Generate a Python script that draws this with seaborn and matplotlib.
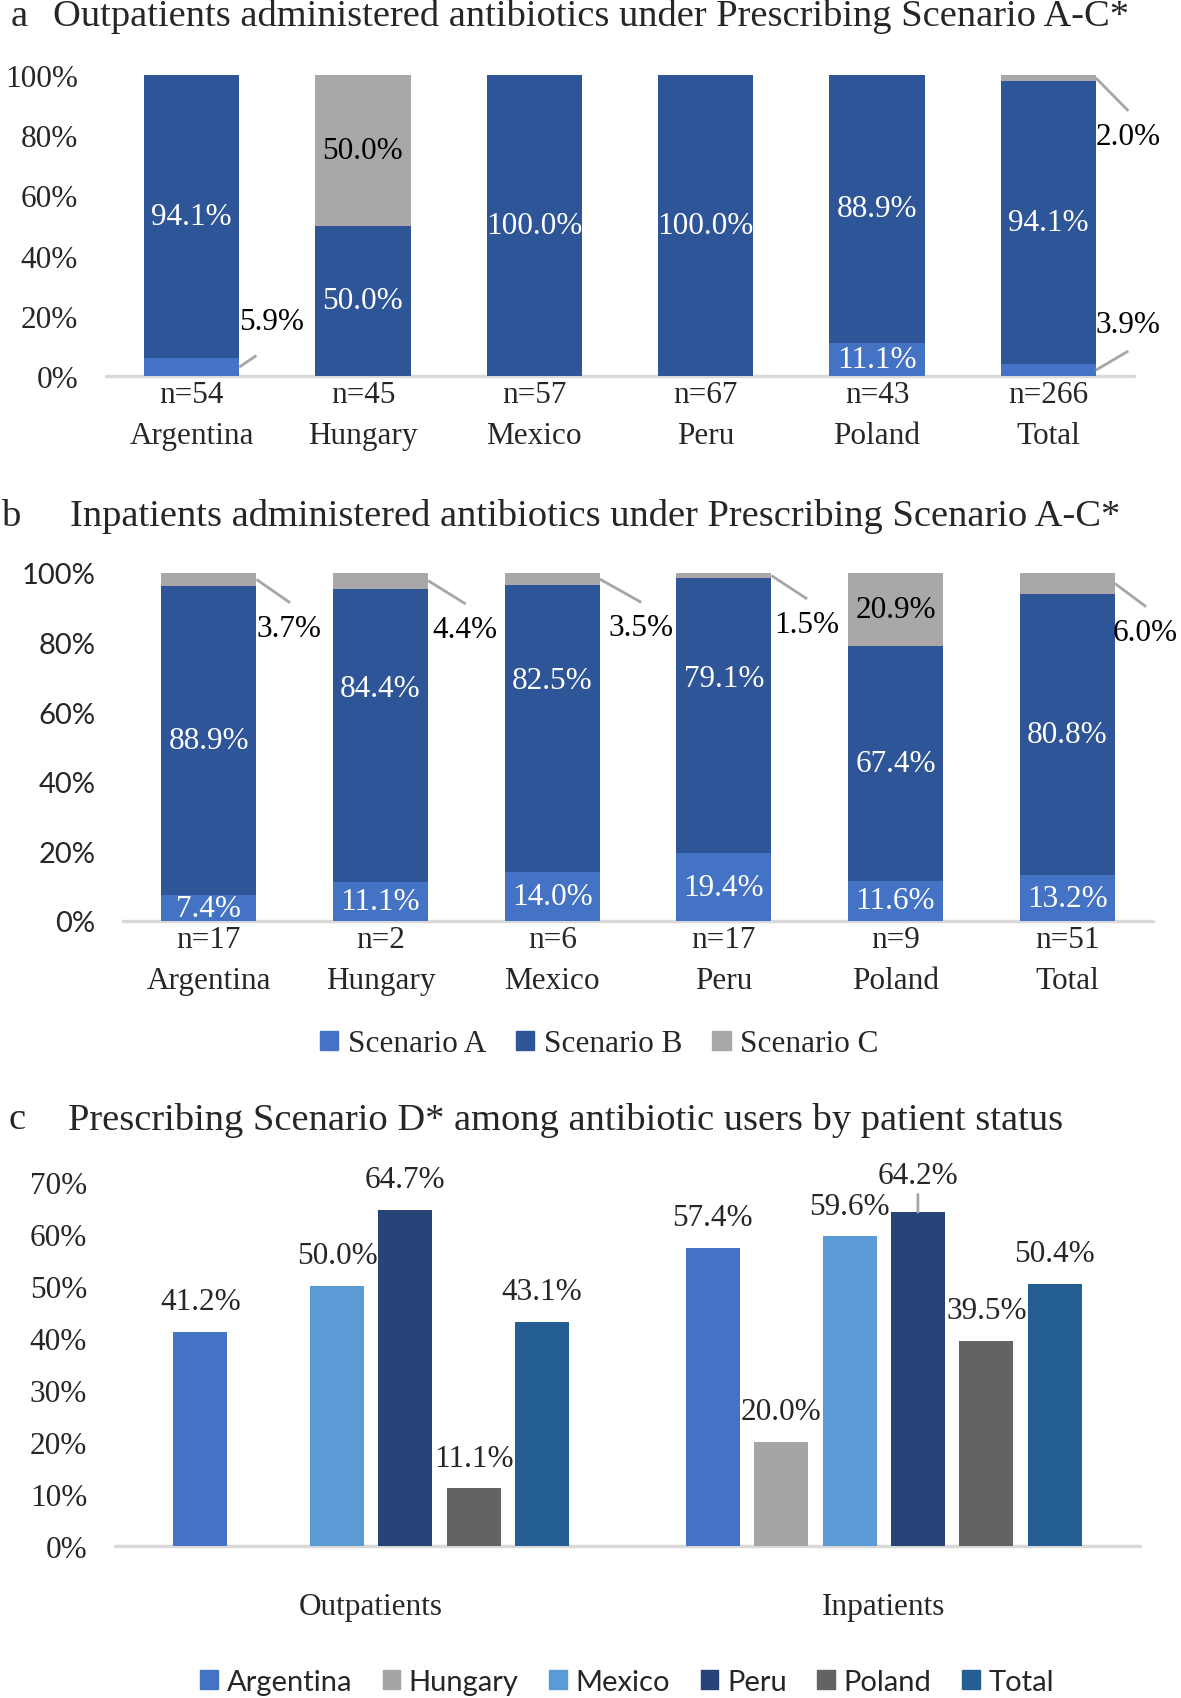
"""
Antibiotic prescribing scenarios: outpatients / inpatients stacked bars + scenario D by status
"""

import numpy as np
import pandas as pd
import seaborn as sns
import matplotlib.pyplot as plt
from matplotlib.patches import Patch

"""
Data read off the figure
"""
countries = ['Argentina', 'Hungary', 'Mexico', 'Peru', 'Poland', 'Total']

# a. outpatients, % of antibiotic users under scenario A / B / C
out_n = [54, 45, 57, 67, 43, 266]
out_a = [5.9, 0.0, 0.0, 0.0, 11.1, 3.9]
out_b = [94.1, 50.0, 100.0, 100.0, 88.9, 94.1]
out_c = [0.0, 50.0, 0.0, 0.0, 0.0, 2.0]

# b. inpatients
in_n = [17, 2, 6, 17, 9, 51]
in_a = [7.4, 11.1, 14.0, 19.4, 11.6, 13.2]
in_b = [88.9, 84.4, 82.5, 79.1, 67.4, 80.8]
in_c = [3.7, 4.4, 3.5, 1.5, 20.9, 6.0]

# c. scenario D by patient status (no outpatient bar for Hungary)
status = ['Outpatients', 'Inpatients']
d_out = [41.2, np.nan, 50.0, 64.7, 11.1, 43.1]
d_in = [57.4, 20.0, 59.6, 64.2, 39.5, 50.4]

"""
Styling
"""
sns.set_theme(style='white')
plt.rcParams['font.family'] = ['Liberation Serif', 'DejaVu Serif']
SANS = 'Lato'
FS = 22.5
TITLE_FS = 27.7
col_a, col_b, col_c = '#4472C4', '#2E5597', '#AAA7A9'
country_colors = ['#4472C4', '#A5A5A5', '#5B9BD5', '#264478', '#636363', '#255E91']
line_grey = '#A6A6A6'
base_grey = '#D9D9D9'
BAR_W = 0.555

W, H = 1181, 1699
fig = plt.figure(figsize=(W / 100, H / 100), dpi=100)


def px_axes(x0, y0, x1, y1):
    # axes from pixel box (top-left origin)
    return fig.add_axes([x0 / W, 1 - y1 / H, (x1 - x0) / W, (y1 - y0) / H])


def callout(ax, start, end, textpos, txt):
    ax.plot([start[0], end[0]], [start[1], end[1]], color=line_grey, lw=2,
            solid_capstyle='butt', clip_on=False, zorder=3)
    ax.text(textpos[0], textpos[1], txt, ha='center', va='center', fontsize=FS,
            color='black', clip_on=False)


def stacked(ax, a, b, c, n, ytick_family=None, label_y=None):
    df = pd.DataFrame({'country': countries, 'A': a, 'B': b, 'C': c})
    df['AB'] = df['A'] + df['B']
    df['ABC'] = df['AB'] + df['C']
    for col, colour in [('ABC', col_c), ('AB', col_b), ('A', col_a)]:
        sns.barplot(data=df, x='country', y=col, color=colour, width=BAR_W,
                    saturation=1, errorbar=None, linewidth=0, ax=ax, zorder=2)
    label_y = label_y or {}
    for i, row in df.iterrows():
        segs = [(row['A'], 0, 'white', 'A'), (row['B'], row['A'], 'white', 'B'),
                (row['C'], row['AB'], 'black', 'C')]
        for val, bottom, tc, key in segs:
            if val >= 7:
                y = label_y.get((i, key), bottom + val / 2)
                ax.text(i, y, f'{val:.1f}%', ha='center', va='center',
                        fontsize=FS, color=tc, zorder=4)
    ax.set_ylim(0, 100)
    ax.set_xlim(-0.5, 5.5)
    ticks = list(range(0, 101, 20))
    kw = {'fontfamily': ytick_family, 'fontsize': FS - 1.5} if ytick_family else {'fontsize': FS}
    ax.set_yticks(ticks, labels=[f'{t}%' for t in ticks], **kw)
    ax.set_xticks(range(6), labels=[f'n={k}\n{c}' for k, c in zip(n, countries)])
    for lbl in ax.get_xticklabels():
        lbl.set_fontsize(FS)
        lbl.set_linespacing(1.55)
    ax.tick_params(axis='y', length=0, pad=20)
    ax.tick_params(axis='x', length=0, pad=3)
    ax.set_xlabel('')
    ax.set_ylabel('')
    sns.despine(ax=ax, left=True, bottom=True)
    ax.axhline(0, color=base_grey, lw=2.5, zorder=1, clip_on=False)


"""
a. outpatients
"""
ax_a = px_axes(106, 76, 1134, 377)
stacked(ax_a, out_a, out_b, out_c, out_n)
hw = BAR_W / 2
callout(ax_a, (0 + hw, out_a[0] / 2), (0.378, 6.8), (0.467, 18.0), f'{out_a[0]:.1f}%')
callout(ax_a, (5 + hw, out_a[5] / 2), (5.467, 8.3), (5.467, 17.0), f'{out_a[5]:.1f}%')
callout(ax_a, (5 + hw, 100 - out_c[5] / 2), (5.467, 88.1), (5.467, 79.5), f'{out_c[5]:.1f}%')

fig.text(11 / W, 1 - 17 / H, 'a', fontsize=TITLE_FS, va='center', ha='left')
fig.text(53 / W, 1 - 17 / H, 'Outpatients administered antibiotics under Prescribing Scenario A-C*',
         fontsize=TITLE_FS, va='center', ha='left')

"""
b. inpatients
"""
ax_b = px_axes(123, 574, 1153, 922)
# the B labels of Hungary, Mexico and Peru sit higher than the segment middle
stacked(ax_b, in_a, in_b, in_c, in_n, ytick_family=SANS,
        label_y={(1, 'B'): 66.7, (2, 'B'): 69.0, (3, 'B'): 69.8})
end_dx = [0.473, 0.496, 0.519, 0.485, None, 0.46]
for i in [0, 1, 2, 3, 5]:
    mid = 100 - in_c[i] / 2
    callout(ax_b, (i + hw, mid), (i + end_dx[i], mid - 6.7), (i + end_dx[i] - 0.004, mid - 14),
            f'{in_c[i]:.1f}%')

fig.text(2 / W, 1 - 517 / H, 'b', fontsize=TITLE_FS, va='center', ha='left')
fig.text(70 / W, 1 - 517 / H, 'Inpatients administered antibiotics under Prescribing Scenario A-C*',
         fontsize=TITLE_FS, va='center', ha='left')

fig.legend(handles=[Patch(color=col_a, label='Scenario A'),
                    Patch(color=col_b, label='Scenario B'),
                    Patch(color=col_c, label='Scenario C')],
           loc='center', bbox_to_anchor=(599 / W, 1 - 1045 / H), ncol=3, frameon=False,
           fontsize=FS, handlelength=0.6, handleheight=0.6, handletextpad=0.3,
           columnspacing=0.95, borderpad=0)

"""
c. scenario D by patient status
"""
ax_c = px_axes(115, 1183, 1140, 1547)
dfc = pd.DataFrame({'status': np.repeat(status, len(countries)),
                    'country': countries * 2,
                    'pct': d_out + d_in}).dropna()
sns.barplot(data=dfc, x='status', y='pct', hue='country', hue_order=countries,
            order=status, palette=country_colors, width=0.8, gap=0.21, saturation=1,
            errorbar=None, linewidth=0, legend=False, ax=ax_c, zorder=2)
for cont in ax_c.containers:
    for bar in cont:
        h = bar.get_height()
        if np.isnan(h):
            continue
        xc = bar.get_x() + bar.get_width() / 2
        if h == d_in[3]:
            # Peru inpatients: label pushed up with a short leader
            ax_c.annotate(f'{h:.1f}%', xy=(xc, h), xytext=(0, 37), textcoords='offset pixels',
                          ha='center', va='center', fontsize=FS, annotation_clip=False,
                          arrowprops=dict(arrowstyle='-', color=line_grey, lw=2,
                                          shrinkA=1, shrinkB=0))
        else:
            ax_c.annotate(f'{h:.1f}%', xy=(xc, h), xytext=(0, 30), textcoords='offset pixels',
                          ha='center', va='center', fontsize=FS, annotation_clip=False)
ax_c.set_ylim(0, 70)
ax_c.set_xlim(-0.5, 1.5)
ticks = list(range(0, 71, 10))
ax_c.set_yticks(ticks, labels=[f'{t}%' for t in ticks], fontsize=FS)
for lbl in ax_c.get_xticklabels():
    lbl.set_fontsize(FS)
ax_c.tick_params(axis='y', length=0, pad=20)
ax_c.tick_params(axis='x', length=0, pad=33)
ax_c.set_xlabel('')
ax_c.set_ylabel('')
sns.despine(ax=ax_c, left=True, bottom=True)
ax_c.axhline(0, color=base_grey, lw=2.5, zorder=1, clip_on=False)

fig.text(9 / W, 1 - 1120 / H, 'c', fontsize=TITLE_FS, va='center', ha='left')
fig.text(68 / W, 1 - 1120 / H, 'Prescribing Scenario D* among antibiotic users by patient status',
         fontsize=TITLE_FS, va='center', ha='left')

fig.legend(handles=[Patch(color=c, label=k) for k, c in zip(countries, country_colors)],
           loc='center', bbox_to_anchor=(627 / W, 1 - 1683 / H), ncol=6, frameon=False,
           prop={'family': SANS, 'size': FS - 1.5}, handlelength=0.6, handleheight=0.6,
           handletextpad=0.3, columnspacing=1.05, borderpad=0)

fig.savefig('out.png', dpi=100)
